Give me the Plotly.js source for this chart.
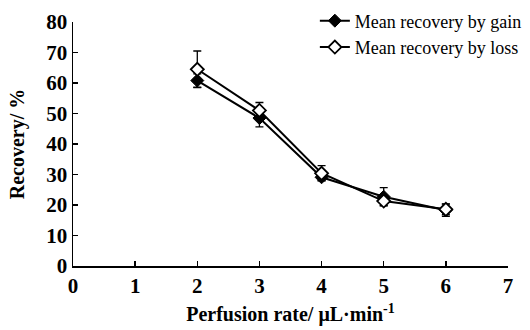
<!DOCTYPE html>
<html>
<head>
<meta charset="utf-8">
<script src="https://cdn.plot.ly/plotly-3.0.1.min.js"></script>
<style>html,body{margin:0;padding:0;background:#fff}#chart{width:530px;height:330px}</style>
</head>
<body>
<div id="chart"></div>
<script>
var perfusionRate = [2, 3, 4, 5, 6];
var gainMean = [60.8, 48.5, 29.1, 22.7, 18.3];
var gainErr = [2.2, 2.9, 1.1, 3.0, 2.0];
var lossMean = [64.5, 51.0, 30.4, 21.3, 18.6];
var lossErr = [6.0, 2.6, 2.5, 1.5, 1.8];
var xTicks = [0, 1, 2, 3, 4, 5, 6, 7];
var yTicks = [0, 10, 20, 30, 40, 50, 60, 70, 80];

var serif = "'Liberation Serif', 'Times New Roman', serif";

var traces = [
  {
    x: perfusionRate, y: gainMean, name: 'Mean recovery by gain',
    type: 'scatter', mode: 'lines+markers',
    line: {color: '#000', width: 2},
    marker: {symbol: 'diamond', size: 10, color: '#000', line: {color: '#000', width: 1}},
    error_y: {type: 'data', array: gainErr, visible: true, color: '#000', thickness: 1.3, width: 4}
  },
  {
    x: perfusionRate, y: lossMean, name: 'Mean recovery by loss',
    type: 'scatter', mode: 'lines+markers',
    line: {color: '#000', width: 2},
    marker: {symbol: 'diamond', size: 10, color: '#fff', line: {color: '#000', width: 1.8}},
    error_y: {type: 'data', array: lossErr, visible: true, color: '#000', thickness: 1.3, width: 4}
  }
];

var layout = {
  width: 530, height: 330,
  margin: {l: 73, r: 22, t: 22, b: 64, autoexpand: false},
  paper_bgcolor: '#fff', plot_bgcolor: '#fff',
  font: {family: serif, color: '#000'},
  showlegend: true,
  legend: {
    x: 0.556, y: 1.08, xanchor: 'left', yanchor: 'top',
    font: {family: serif, size: 18, color: '#000'},
    bgcolor: 'rgba(0,0,0,0)', tracegroupgap: 0
  },
  xaxis: {
    range: [0, 7], tickvals: xTicks, ticktext: xTicks.map(String),
    showline: true, linecolor: '#000', linewidth: 1.5,
    ticks: 'inside', ticklen: 5, tickwidth: 1.5, tickcolor: '#000',
    showgrid: false, zeroline: false,
    tickfont: {family: serif, size: 21, weight: 'bold', color: '#000'},
    title: {text: 'Perfusion rate/ μL·min<sup>-1</sup>', font: {family: serif, size: 20, weight: 'bold', color: '#000'}, standoff: 10}
  },
  yaxis: {
    range: [0, 80], tickvals: yTicks, ticktext: yTicks.map(String),
    showline: true, linecolor: '#000', linewidth: 1.5,
    ticks: 'inside', ticklen: 5, tickwidth: 1.5, tickcolor: '#000',
    showgrid: false, zeroline: false,
    tickfont: {family: serif, size: 21, weight: 'bold', color: '#000'},
    title: {text: 'Recovery/ %', font: {family: serif, size: 20, weight: 'bold', color: '#000'}, standoff: 16}
  }
};

Plotly.newPlot('chart', traces, layout, {staticPlot: true, displayModeBar: false});
</script>
</body>
</html>
